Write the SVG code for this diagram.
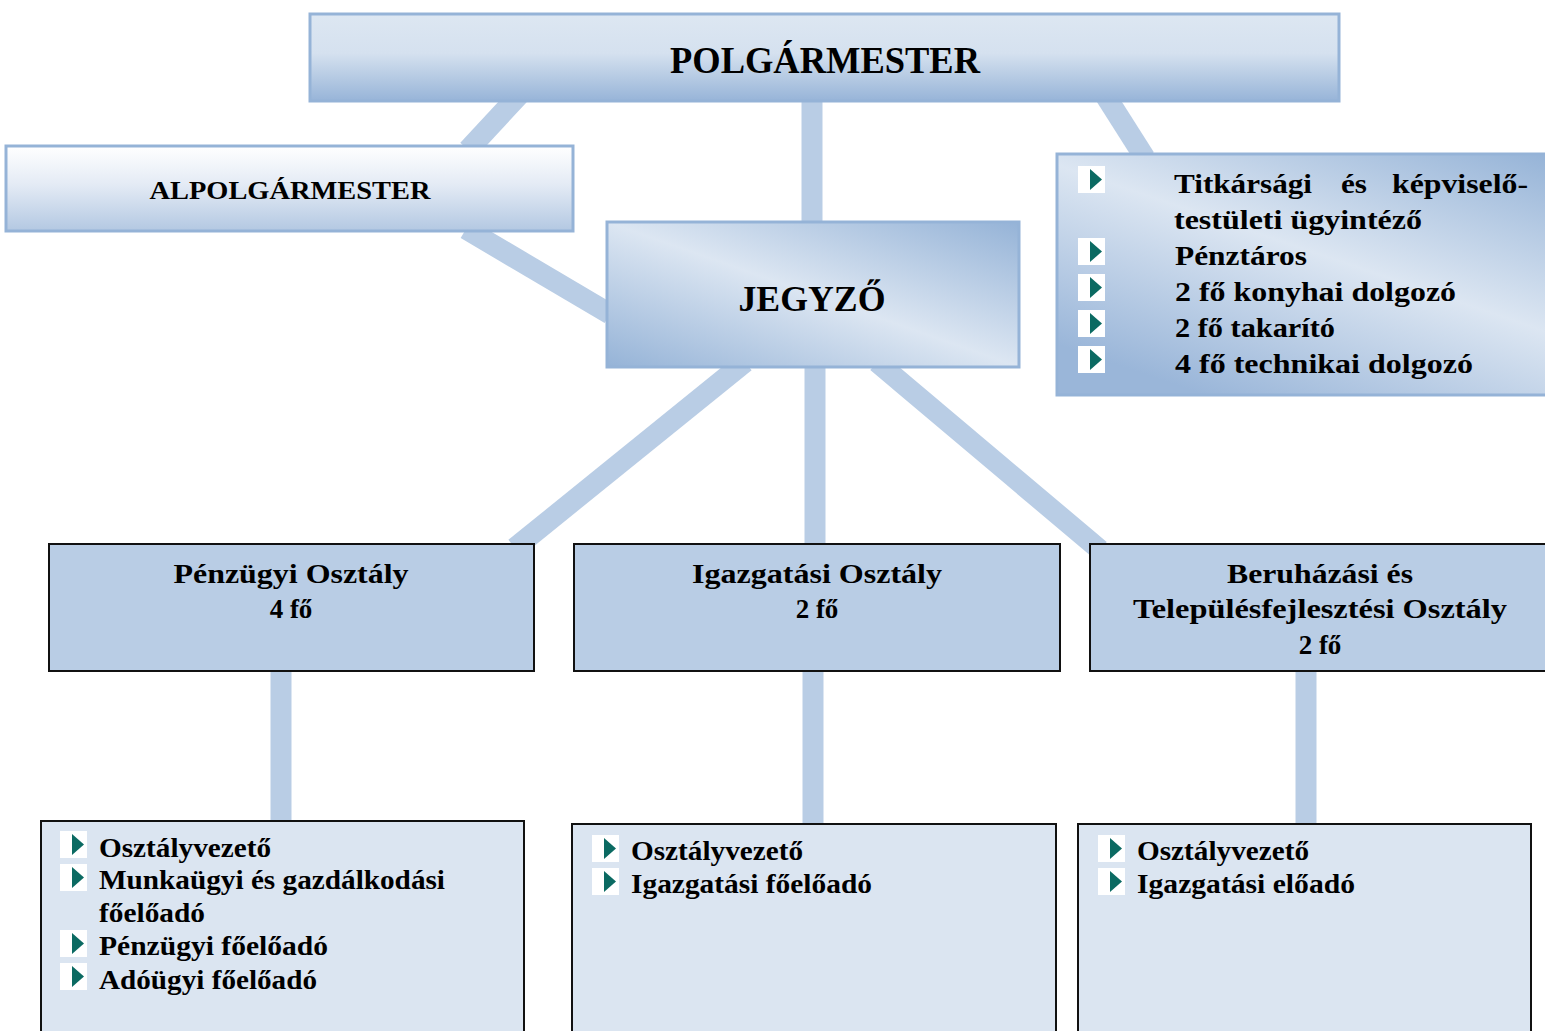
<svg xmlns="http://www.w3.org/2000/svg" width="1545" height="1031" viewBox="0 0 1545 1031" font-family="'Liberation Serif', serif">
<defs>
<linearGradient id="gPolg" x1="0" y1="0" x2="0" y2="1">
<stop offset="0" stop-color="#dde7f2"/><stop offset="0.45" stop-color="#d5e1ef"/><stop offset="1" stop-color="#97b4d8"/>
</linearGradient>
<linearGradient id="gAlp" x1="0" y1="0" x2="0" y2="1">
<stop offset="0" stop-color="#ffffff"/><stop offset="0.45" stop-color="#e4ebf5"/><stop offset="1" stop-color="#b3c8e2"/>
</linearGradient>
<linearGradient id="gDiag" x1="1" y1="0" x2="0" y2="1">
<stop offset="0" stop-color="#95b3d7"/><stop offset="0.5" stop-color="#dce6f2"/><stop offset="1" stop-color="#95b3d7"/>
</linearGradient>
<linearGradient id="gDiag2" x1="1" y1="0" x2="0.3" y2="1">
<stop offset="0" stop-color="#95b3d7"/><stop offset="0.5" stop-color="#dce6f2"/><stop offset="1" stop-color="#9ab6d9"/>
</linearGradient>
<g id="bullet">
<rect x="0" y="0" width="27" height="27" fill="#ffffff"/>
<polygon points="12,3 24,13.5 12,24" fill="#0b6a62"/>
</g>
</defs>
<style>
.con{stroke:#b9cde5;stroke-width:21;fill:none}
.top{stroke:#95b3d7;stroke-width:3}
.dept{fill:#b9cde5;stroke:#111;stroke-width:2}
.list{fill:#dbe5f1;stroke:#111;stroke-width:2}
text{font-family:"Liberation Serif",serif;font-weight:700;fill:#000}
.t27{font-size:27px}
.c{text-anchor:middle}
</style>
<rect width="1545" height="1031" fill="#ffffff"/>
<g id="connectors">
<line class="con" x1="519" y1="95" x2="468" y2="150"/>
<line class="con" x1="1105" y1="95" x2="1145" y2="158"/>
<line class="con" x1="812" y1="95" x2="812" y2="226"/>
<line class="con" x1="466" y1="229" x2="610" y2="314"/>
<line class="con" x1="745" y1="362" x2="515" y2="548"/>
<line class="con" x1="815" y1="362" x2="815" y2="548"/>
<line class="con" x1="877" y1="362" x2="1100" y2="550"/>
<line class="con" x1="281" y1="668" x2="281" y2="825"/>
<line class="con" x1="813" y1="668" x2="813" y2="828"/>
<line class="con" x1="1306" y1="668" x2="1306" y2="828"/>
</g>
<g id="polgarmester">
<rect class="top" x="310" y="14" width="1029" height="87" fill="url(#gPolg)"/>
<text x="825" y="73" class="c" font-size="37" textLength="310" lengthAdjust="spacingAndGlyphs">POLGÁRMESTER</text>
</g>
<g id="alpolgarmester">
<rect class="top" x="6" y="146" width="567" height="85" fill="url(#gAlp)"/>
<text x="290" y="199" class="c" font-size="26" textLength="281" lengthAdjust="spacingAndGlyphs">ALPOLGÁRMESTER</text>
</g>
<g id="jegyzo">
<rect class="top" x="607" y="222" width="412" height="145" fill="url(#gDiag)"/>
<text x="812" y="311" class="c" font-size="36" textLength="147" lengthAdjust="spacingAndGlyphs">JEGYZŐ</text>
</g>
<g id="titkarsag">
<rect class="top" x="1057" y="154" width="495" height="241" fill="url(#gDiag2)"/>
<use href="#bullet" x="1078" y="166"/>
<use href="#bullet" x="1078" y="238"/>
<use href="#bullet" x="1078" y="274"/>
<use href="#bullet" x="1078" y="310"/>
<use href="#bullet" x="1078" y="346"/>
<text class="t27" x="1174" y="193" textLength="138" lengthAdjust="spacingAndGlyphs">Titkársági</text>
<text class="t27" x="1341" y="193" textLength="26" lengthAdjust="spacingAndGlyphs">és</text>
<text class="t27" x="1392" y="193" textLength="136" lengthAdjust="spacingAndGlyphs">képviselő-</text>
<text class="t27" x="1174" y="229" textLength="248" lengthAdjust="spacingAndGlyphs">testületi ügyintéző</text>
<text class="t27" x="1175" y="265" textLength="132" lengthAdjust="spacingAndGlyphs">Pénztáros</text>
<text class="t27" x="1175" y="301" textLength="281" lengthAdjust="spacingAndGlyphs">2 fő konyhai dolgozó</text>
<text class="t27" x="1175" y="337" textLength="160" lengthAdjust="spacingAndGlyphs">2 fő takarító</text>
<text class="t27" x="1175" y="373" textLength="298" lengthAdjust="spacingAndGlyphs">4 fő technikai dolgozó</text>
</g>
<g id="penzugyi">
<rect class="dept" x="49" y="544" width="485" height="127"/>
<text class="t27 c" x="291" y="583" textLength="235" lengthAdjust="spacingAndGlyphs">Pénzügyi Osztály</text>
<text class="t27 c" x="291" y="618">4 fő</text>
</g>
<g id="igazgatasi">
<rect class="dept" x="574" y="544" width="486" height="127"/>
<text class="t27 c" x="817" y="583" textLength="250" lengthAdjust="spacingAndGlyphs">Igazgatási Osztály</text>
<text class="t27 c" x="817" y="618">2 fő</text>
</g>
<g id="beruhazasi">
<rect class="dept" x="1090" y="544" width="465" height="127"/>
<text class="t27 c" x="1320" y="583" textLength="186" lengthAdjust="spacingAndGlyphs">Beruházási és</text>
<text class="t27 c" x="1320" y="618" textLength="374" lengthAdjust="spacingAndGlyphs">Településfejlesztési Osztály</text>
<text class="t27 c" x="1320" y="654">2 fő</text>
</g>
<g id="penzugyi-list">
<rect class="list" x="41" y="821" width="483" height="220"/>
<use href="#bullet" x="60" y="831"/>
<use href="#bullet" x="60" y="864"/>
<use href="#bullet" x="60" y="930"/>
<use href="#bullet" x="60" y="963"/>
<text class="t27" x="99" y="857" textLength="172" lengthAdjust="spacingAndGlyphs">Osztályvezető</text>
<text class="t27" x="99" y="889" textLength="346" lengthAdjust="spacingAndGlyphs">Munkaügyi és gazdálkodási</text>
<text class="t27" x="99" y="922" textLength="106" lengthAdjust="spacingAndGlyphs">főelőadó</text>
<text class="t27" x="99" y="955" textLength="229" lengthAdjust="spacingAndGlyphs">Pénzügyi főelőadó</text>
<text class="t27" x="99" y="989" textLength="218" lengthAdjust="spacingAndGlyphs">Adóügyi főelőadó</text>
</g>
<g id="igazgatasi-list">
<rect class="list" x="572" y="824" width="484" height="220"/>
<use href="#bullet" x="592" y="835"/>
<use href="#bullet" x="592" y="868"/>
<text class="t27" x="631" y="860" textLength="172" lengthAdjust="spacingAndGlyphs">Osztályvezető</text>
<text class="t27" x="631" y="893" textLength="241" lengthAdjust="spacingAndGlyphs">Igazgatási főelőadó</text>
</g>
<g id="beruhazasi-list">
<rect class="list" x="1078" y="824" width="453" height="220"/>
<use href="#bullet" x="1098" y="835"/>
<use href="#bullet" x="1098" y="868"/>
<text class="t27" x="1137" y="860" textLength="172" lengthAdjust="spacingAndGlyphs">Osztályvezető</text>
<text class="t27" x="1137" y="893" textLength="218" lengthAdjust="spacingAndGlyphs">Igazgatási előadó</text>
</g>
</svg>
